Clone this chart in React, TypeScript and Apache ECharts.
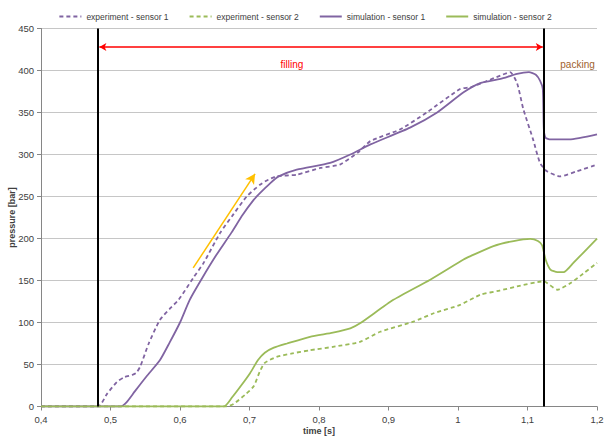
import React, { useEffect, useRef } from "react";
import * as echarts from "echarts";

const exp1T = [0.4, 0.482, 0.495, 0.509, 0.52, 0.531, 0.537, 0.543, 0.555, 0.571, 0.586, 0.598, 0.619, 0.634, 0.658, 0.677, 0.696, 0.715, 0.727, 0.739, 0.768, 0.802, 0.83, 0.857, 0.874, 0.917, 0.955, 1.003, 1.018, 1.037, 1.061, 1.075, 1.085, 1.094, 1.108, 1.118, 1.128, 1.147, 1.171, 1.2];
const exp1V = [0, 0, 15, 29, 35, 37.5, 40, 48, 75, 103, 117, 127, 153, 171, 207, 229, 250, 264, 270, 274, 276, 284, 288, 303, 316, 330, 350, 378, 380, 386, 394, 398, 385, 354, 318, 290, 280, 274, 280, 288];

const exp2T = [0.4, 0.666, 0.677, 0.695, 0.706, 0.715, 0.722, 0.739, 0.76, 0.787, 0.82, 0.859, 0.888, 0.936, 0.965, 1.003, 1.032, 1.06, 1.085, 1.123, 1.143, 1.162, 1.18, 1.2];
const exp2V = [0, 0, 3, 15, 24, 42, 52, 59, 63, 67, 71, 77, 89, 101, 111, 121, 133, 138, 143, 149, 139, 147, 158, 171];

const sim1T = [0.4, 0.514, 0.523, 0.535, 0.552, 0.571, 0.585, 0.6, 0.614, 0.632, 0.652, 0.674, 0.69, 0.706, 0.715, 0.73, 0.742, 0.768, 0.816, 0.845, 0.874, 0.931, 0.97, 1.008, 1.032, 1.061, 1.085, 1.102, 1.112, 1.118, 1.122, 1.1235, 1.126, 1.133, 1.16, 1.2];
const sim1V = [0, 0, 5, 18, 36, 55, 76, 100, 127, 153, 180, 207, 228, 246, 254, 266, 274, 282, 290, 300, 312, 332, 350, 374, 385, 390, 396, 398, 395, 388, 378, 330, 320, 318, 318, 324];

const sim2T = [0.4, 0.663, 0.675, 0.688, 0.701, 0.712, 0.722, 0.735, 0.754, 0.787, 0.82, 0.845, 0.859, 0.907, 0.96, 1.008, 1.018, 1.051, 1.08, 1.104, 1.115, 1.121, 1.126, 1.133, 1.143, 1.152, 1.166, 1.2];
const sim2V = [0, 0, 11, 25, 40, 55, 64, 70, 75, 83, 88, 93, 99, 127, 151, 175, 179, 191, 197, 199.5, 197, 192, 175, 163, 160, 160, 171, 200];

const seriesNames = ["experiment - sensor 1", "experiment - sensor 2", "simulation - sensor 1", "simulation - sensor 2"];
const phaseStart = 0.482;
const phaseSwitch = 1.124;
const phaseLabels = ["filling", "packing"];

const PURPLE = "#8064A2";
const GREEN = "#9BBB59";
const FONT = "Liberation Sans";

function pairs(t: number[], v: number[]) {
  return t.map((x, i) => [x, v[i]]);
}

export default function App() {
  const ref = useRef<HTMLDivElement>(null);
  useEffect(() => {
    document.body.style.margin = "0";
    if (!ref.current) return;
    const chart = echarts.init(ref.current, null, { renderer: "svg", width: 610, height: 436 });
    const lineSeries = (name: string, data: number[][], color: string, dashed: boolean) => ({
      name,
      type: "line",
      data,
      symbol: "none",
      smooth: 0.2,
      lineStyle: { color, width: 1.8, type: dashed ? [4, 3] : "solid", join: "round" },
      itemStyle: { color },
      z: 3,
    });
    chart.setOption({
      animation: false,
      textStyle: { fontFamily: FONT },
      legend: {
        top: 7,
        left: "center",
        data: seriesNames,
        itemWidth: 22,
        itemHeight: 8,
        itemGap: 20,
        itemStyle: { opacity: 0 },
        textStyle: { fontSize: 8.5, color: "#404040", fontFamily: FONT },
      },
      grid: { left: 41, right: 13, top: 28.5, bottom: 29.5, containLabel: false, outerBoundsMode: "none" },
      xAxis: {
        type: "value",
        min: 0.4,
        max: 1.2,
        interval: 0.1,
        name: "time [s]",
        nameLocation: "middle",
        nameGap: 20,
        nameMoveOverlap: false,
        nameTextStyle: { fontWeight: "bold", fontSize: 9, color: "#404040" },
        axisLine: { show: true, lineStyle: { color: "#868686" } },
        axisTick: { show: true, length: 4, lineStyle: { color: "#868686" } },
        splitLine: { show: false },
        axisLabel: {
          fontSize: 9.5,
          color: "#404040",
          margin: 8,
          formatter: (v: number) => String(Math.round(v * 10) / 10).replace(".", ","),
        },
      },
      yAxis: {
        type: "value",
        min: 0,
        max: 450,
        interval: 50,
        name: "pressure [bar]",
        nameLocation: "middle",
        nameGap: 25,
        nameMoveOverlap: false,
        nameTextStyle: { fontWeight: "bold", fontSize: 9, color: "#404040" },
        axisLine: { show: true, lineStyle: { color: "#868686" } },
        axisTick: { show: true, length: 4, lineStyle: { color: "#868686" } },
        splitLine: { show: true, lineStyle: { color: "#C6C6C6", width: 1 } },
        axisLabel: { fontSize: 9.5, color: "#404040", margin: 7 },
      },
      series: [
        {
          name: "annotations",
          type: "line",
          data: [[0.4, 0]],
          symbol: "none",
          lineStyle: { opacity: 0 },
          clip: false,
          silent: true,
          z: 5,
          markLine: {
            silent: true,
            animation: false,
            label: { show: false },
            data: [
              [
                { coord: [phaseStart, 0], symbol: "none", lineStyle: { color: "#000", width: 2, type: "solid" } },
                { coord: [phaseStart, 450], symbol: "none" },
              ],
              [
                { coord: [phaseSwitch, 0], symbol: "none", lineStyle: { color: "#000", width: 2, type: "solid" } },
                { coord: [phaseSwitch, 450], symbol: "none" },
              ],
              [
                { coord: [phaseStart + 0.002, 428], symbol: "arrow", symbolSize: [6, 7], lineStyle: { color: "#FF0000", width: 1.5, type: "solid" } },
                { coord: [phaseSwitch - 0.002, 428], symbol: "arrow", symbolSize: [6, 7] },
              ],
              [
                { coord: [phaseSwitch + 0.003, 428], symbol: "arrow", symbolSize: [6, 7], lineStyle: { color: "#B0703A", width: 1.5, type: "solid" } },
                { coord: [1.225, 428], symbol: "none" },
              ],
              [
                { coord: [0.619, 165], symbol: "none", lineStyle: { color: "#FFC000", width: 1.5, type: "solid" } },
                { coord: [0.708, 277], symbol: "arrow", symbolSize: [8, 10] },
              ],
            ],
          },
          markPoint: {
            silent: true,
            symbol: "circle",
            symbolSize: 0,
            label: { show: true, position: "inside", fontSize: 10, fontFamily: FONT },
            data: [
              { coord: [0.761, 407], label: { formatter: phaseLabels[0], color: "#FF0000" } },
              { coord: [1.172, 407], label: { formatter: phaseLabels[1], color: "#A0622D" } },
            ],
          },
        },
        lineSeries(seriesNames[0], pairs(exp1T, exp1V), PURPLE, true),
        lineSeries(seriesNames[1], pairs(exp2T, exp2V), GREEN, true),
        lineSeries(seriesNames[2], pairs(sim1T, sim1V), PURPLE, false),
        lineSeries(seriesNames[3], pairs(sim2T, sim2V), GREEN, false),
      ],
    });
    return () => chart.dispose();
  }, []);
  return <div ref={ref} style={{ width: 610, height: 436 }} />;
}
